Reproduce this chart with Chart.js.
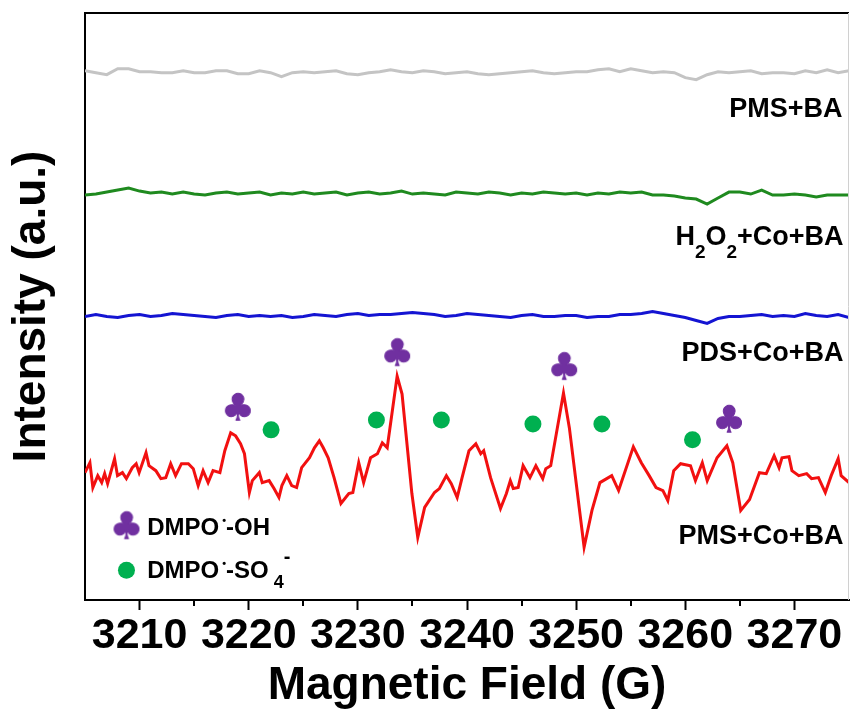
<!DOCTYPE html>
<html>
<head>
<meta charset="utf-8">
<script src="https://cdn.jsdelivr.net/npm/chart.js@4.4.0/dist/chart.umd.min.js"></script>
<style>
  body { margin: 0; background: #fff; }
  #eprChart { display: block; }
</style>
</head>
<body>
<canvas id="eprChart" width="862" height="717"></canvas>
<script>
// x tick values
const majorTicks = [3210, 3220, 3230, 3240, 3250, 3260, 3270];
const minorTicks = [3215, 3225, 3235, 3245, 3255, 3265];

// field grid of the three flat traces (G)
const flatField = [3205,3206,3207,3208,3209,3210,3211,3212,3213,3214,3215,3216,3217,3218,3219,3220,3221,3222,3223,3224,
  3225,3226,3227,3228,3229,3230,3231,3232,3233,3234,3235,3236,3237,3238,3239,3240,3241,3242,3243,3244,
  3245,3246,3247,3248,3249,3250,3251,3252,3253,3254,3255,3256,3257,3258,3259,3260,3261,3262,3263,3264,
  3265,3266,3267,3268,3269,3270,3271,3272,3273,3274,3275];

// PMS+BA (gray)
const pmsBA = [53.2,53.0,52.8,53.4,53.4,53.1,53.1,53.0,53.0,53.2,53.0,53.0,53.2,53.2,52.9,52.9,53.2,53.0,52.6,53.0,
  53.1,53.0,53.1,53.2,52.9,52.8,53.0,53.1,53.3,53.1,53.0,53.2,53.1,52.9,53.0,53.1,52.9,52.8,52.9,53.0,
  53.1,53.2,53.0,52.9,53.0,53.1,53.1,53.3,53.4,53.1,53.4,53.2,53.0,53.1,53.0,52.5,52.3,52.8,53.1,53.0,
  53.1,53.2,52.9,53.0,53.0,52.9,53.2,53.0,53.3,53.0,53.2];

// H2O2+Co+BA (green)
const h2o2CoBA = [40.7,40.8,41.0,41.2,41.4,41.1,40.9,41.0,40.8,41.0,40.8,40.7,40.9,41.0,40.8,40.9,41.0,40.7,40.9,40.8,
  41.0,40.8,40.9,41.0,40.7,40.9,41.0,40.8,40.9,41.1,40.8,40.9,40.8,40.7,41.0,40.9,40.8,41.0,40.9,40.7,
  40.9,40.8,41.0,40.9,40.8,40.9,40.7,40.9,40.8,41.0,40.9,41.0,40.7,40.7,40.6,40.4,40.3,39.8,40.4,41.0,
  41.0,40.8,41.2,40.7,40.7,40.8,40.7,40.5,40.7,40.7,40.7];

// PDS+Co+BA (blue)
const pdsCoBA = [28.5,28.7,28.5,28.4,28.6,28.7,28.5,28.6,28.8,28.7,28.6,28.5,28.4,28.6,28.7,28.5,28.6,28.5,28.6,28.4,
  28.5,28.7,28.6,28.5,28.7,28.8,28.6,28.7,28.7,28.8,28.9,28.8,28.7,28.5,28.6,28.8,28.7,28.6,28.5,28.4,
  28.6,28.7,28.5,28.5,28.6,28.6,28.4,28.5,28.5,28.7,28.7,28.8,29.0,28.8,28.6,28.4,28.1,27.8,28.3,28.5,
  28.5,28.6,28.7,28.5,28.6,28.5,28.8,28.6,28.5,28.7,28.4];

// PMS+Co+BA (red)
const redField = [3205.00,3205.45,3205.72,3206.17,3206.53,3206.80,3207.07,3207.71,3207.98,3208.43,3208.79,3209.33,3209.69,3209.96,
  3210.59,3210.86,3211.49,3211.95,3212.40,3212.85,3213.30,3213.84,3214.47,3214.92,3215.37,3215.82,3216.28,3216.73,3217.36,3217.81,
  3218.35,3218.80,3219.25,3219.61,3220.06,3220.33,3220.97,3221.24,3221.87,3222.32,3222.77,3223.04,3223.49,3223.94,3224.39,3224.85,
  3225.57,3226.02,3226.47,3226.83,3227.28,3227.82,3228.45,3229.17,3229.54,3230.08,3230.53,3231.16,3231.79,3232.24,3232.69,3233.60,
  3234.05,3234.95,3235.49,3236.12,3237.02,3237.47,3238.11,3238.56,3239.10,3239.55,3240.18,3240.81,3241.26,3241.53,3242.16,3243.07,
  3243.61,3243.97,3244.24,3244.69,3245.14,3245.77,3246.31,3246.94,3247.22,3247.67,3248.84,3249.38,3250.28,3250.73,3251.45,3252.18,
  3253.26,3253.89,3255.24,3255.97,3256.69,3257.32,3257.95,3258.40,3258.94,3259.57,3260.48,3260.93,3261.56,3262.01,3262.91,3263.81,
  3264.35,3265.08,3265.89,3266.79,3267.42,3268.14,3268.59,3268.86,3269.50,3269.77,3270.40,3271.12,3271.57,3272.20,3272.83,3273.37,
  3274.01,3274.28,3275.00];
const pmsCoBA = [12.8,13.8,11.3,12.5,11.8,12.7,11.7,14.2,12.5,12.8,12.2,13.3,13.7,12.8,
  14.8,13.5,13.0,12.2,12.3,13.7,12.5,13.7,13.7,13.2,11.5,13.0,11.8,13.0,12.8,15.0,
  16.8,16.5,15.7,14.7,10.8,12.0,12.8,11.8,12.0,11.2,10.3,11.5,12.5,11.5,11.3,13.3,
  14.3,15.3,16.0,15.3,14.3,12.3,9.7,10.7,10.8,13.8,11.8,14.3,14.7,15.8,15.3,22.5,
  20.7,10.7,6.3,9.3,10.8,11.2,12.5,11.7,10.3,12.3,15.0,15.7,14.7,15.0,12.3,9.2,
  10.7,12.0,11.2,11.3,13.5,12.3,13.5,12.2,13.2,13.5,20.8,17.3,9.3,5.3,9.0,11.8,
  12.5,11.0,15.4,13.8,12.5,11.3,11.0,10.0,13.0,13.7,13.5,12.0,13.8,12.0,14.3,15.5,
  13.8,9.0,10.1,12.8,12.7,14.5,13.3,14.3,14.4,13.0,12.5,12.7,12.2,12.3,10.8,12.5,
  14.2,12.5,11.8];

// marker positions: DMPO-OH (club) and DMPO-SO4 (circle)
const ohField = [3219.0, 3233.6, 3248.9, 3264.0];
const ohInt = [19.2, 24.7, 23.3, 18.0];
const so4Field = [3222.05, 3231.70, 3237.65, 3246.04, 3252.36, 3260.66];
const so4Int = [17.1, 18.1, 18.1, 17.7, 17.7, 16.1];

const PURPLE = '#7030A0';
const GREEN_DOT = '#00B050';
const FONT = '"Liberation Sans", Arial, sans-serif';

function pts(xs, ys) {
  return xs.map((x, i) => ({ x: x, y: ys[i] }));
}

// club glyph used as the point style
const clubImg = (function () {
  const c = document.createElement('canvas');
  c.width = 36; c.height = 36;
  const g = c.getContext('2d');
  g.fillStyle = PURPLE;
  g.strokeStyle = PURPLE;
  g.lineWidth = 1;
  g.font = '37px "DejaVu Sans"';
  g.textAlign = 'center';
  g.textBaseline = 'middle';
  g.fillText('\u2663', 18, 19);
  g.strokeText('\u2663', 18, 19);
  return c;
})();

// runs: [text, size, dy]
function drawRuns(ctx, x, y, runs, align) {
  let total = 0;
  runs.forEach(r => {
    ctx.font = 'bold ' + r[1] + 'px ' + FONT;
    total += ctx.measureText(r[0]).width;
  });
  let cx = align === 'right' ? x - total : x;
  ctx.textAlign = 'left';
  ctx.textBaseline = 'alphabetic';
  runs.forEach(r => {
    ctx.font = 'bold ' + r[1] + 'px ' + FONT;
    ctx.fillText(r[0], cx, y + (r[2] || 0));
    cx += ctx.measureText(r[0]).width;
  });
}

const sampleLabels = [
  { x: 3274.4, y: 48.5, runs: [['PMS+BA', 27]] },
  { x: 3274.5, y: 35.7, runs: [['H', 27], ['2', 19, 13], ['O', 27], ['2', 19, 13], ['+Co+BA', 27]] },
  { x: 3274.5, y: 24.0, runs: [['PDS+Co+BA', 27]] },
  { x: 3274.5, y: 5.6, runs: [['PMS+Co+BA', 27]] }
];

const legendRows = [
  { mx: 3208.8, my: 7.3, marker: 'club', tx: 3210.7, ty: 6.5,
    runs: [['DMPO', 24], [' \u2022', 11, -11], ['-OH', 24]] },
  { mx: 3208.8, my: 3.0, marker: 'circle', tx: 3210.7, ty: 2.2,
    runs: [['DMPO', 24], [' \u2022', 11, -11], ['-SO', 24], [' 4', 18, 10], ['-', 20, -15]] }
];

const decorPlugin = {
  id: 'decor',
  afterDraw(chart) {
    const ctx = chart.ctx;
    const a = chart.chartArea;
    const xs = chart.scales.x, ys = chart.scales.y;
    ctx.save();
    // top and right frame
    ctx.strokeStyle = '#000';
    ctx.lineWidth = 2;
    ctx.beginPath();
    ctx.moveTo(a.left - 1, a.top);
    ctx.lineTo(a.right, a.top);
    ctx.stroke();
    ctx.strokeStyle = '#d0d0d0';
    ctx.lineWidth = 1;
    ctx.beginPath();
    ctx.moveTo(a.right - 0.5, a.top);
    ctx.lineTo(a.right - 0.5, a.bottom);
    ctx.stroke();
    // minor ticks
    ctx.strokeStyle = '#000';
    ctx.lineWidth = 2;
    minorTicks.forEach(v => {
      const px = Math.round(xs.getPixelForValue(v));
      ctx.beginPath();
      ctx.moveTo(px, a.bottom);
      ctx.lineTo(px, a.bottom + 6);
      ctx.stroke();
    });
    // sample labels
    ctx.fillStyle = '#000';
    sampleLabels.forEach(l => {
      drawRuns(ctx, xs.getPixelForValue(l.x), ys.getPixelForValue(l.y), l.runs, 'right');
    });
    // legend
    legendRows.forEach(r => {
      const mx = xs.getPixelForValue(r.mx), my = ys.getPixelForValue(r.my);
      if (r.marker === 'club') {
        Chart.helpers.drawPoint(ctx, { pointStyle: clubImg, radius: 12, rotation: 0 }, mx, my);
      } else {
        ctx.fillStyle = GREEN_DOT;
        ctx.beginPath();
        ctx.arc(mx, my, 8.5, 0, Math.PI * 2);
        ctx.fill();
      }
      ctx.fillStyle = '#000';
      drawRuns(ctx, xs.getPixelForValue(r.tx), ys.getPixelForValue(r.ty), r.runs, 'left');
    });
    ctx.restore();
  }
};

const lineStyle = { pointRadius: 0, borderWidth: 3, tension: 0, fill: false };

new Chart(document.getElementById('eprChart').getContext('2d'), {
  type: 'line',
  data: {
    datasets: [
      { label: 'DMPO-OH', type: 'scatter', data: pts(ohField, ohInt), pointStyle: clubImg,
        pointRadius: 12, showLine: false, order: 0 },
      { label: 'DMPO-SO4', type: 'scatter', data: pts(so4Field, so4Int), pointStyle: 'circle',
        pointRadius: 8.5, backgroundColor: GREEN_DOT, borderWidth: 0, showLine: false, order: 1 },
      Object.assign({ label: 'PMS+BA', data: pts(flatField, pmsBA), borderColor: '#c4c4c4', order: 5 }, lineStyle),
      Object.assign({ label: 'H2O2+Co+BA', data: pts(flatField, h2o2CoBA), borderColor: '#1f8a1f', order: 4 }, lineStyle),
      Object.assign({ label: 'PDS+Co+BA', data: pts(flatField, pdsCoBA), borderColor: '#1414d2', order: 3 }, lineStyle),
      Object.assign({ label: 'PMS+Co+BA', data: pts(redField, pmsCoBA), borderColor: '#f21010', order: 2 }, lineStyle)
    ]
  },
  options: {
    responsive: false,
    animation: false,
    devicePixelRatio: 1,
    layout: { padding: { top: 10, right: 1, left: 0, bottom: 0 } },
    plugins: { legend: { display: false }, tooltip: { enabled: false } },
    scales: {
      x: {
        type: 'linear', min: 3205, max: 3275,
        border: { display: true, color: '#000', width: 2 },
        grid: { display: true, drawOnChartArea: false, drawTicks: true, tickLength: 10, tickWidth: 2, tickColor: '#000' },
        afterBuildTicks: s => { s.ticks = majorTicks.map(v => ({ value: v })); },
        ticks: {
          autoSkip: false, maxRotation: 0, padding: 0, color: '#000',
          font: { family: FONT, size: 43, weight: 'bold', lineHeight: 1.2 },
          callback: v => String(v)
        },
        title: {
          display: true, text: 'Magnetic Field (G)', color: '#000',
          font: { family: FONT, size: 46, weight: 'bold', lineHeight: 1.2 },
          padding: { top: 0, bottom: 3 }
        },
        afterFit: s => { s.height = 117; }
      },
      y: {
        type: 'linear', min: 0, max: 59,
        border: { display: true, color: '#000', width: 2 },
        grid: { display: false },
        ticks: { display: false },
        title: {
          display: true, text: 'Intensity (a.u.)', color: '#000',
          font: { family: FONT, size: 46, weight: 'bold', lineHeight: 1.2 },
          padding: { top: 5, bottom: 0 }
        },
        afterFit: s => { s.width = 85; }
      }
    }
  },
  plugins: [decorPlugin]
});
</script>
</body>
</html>
